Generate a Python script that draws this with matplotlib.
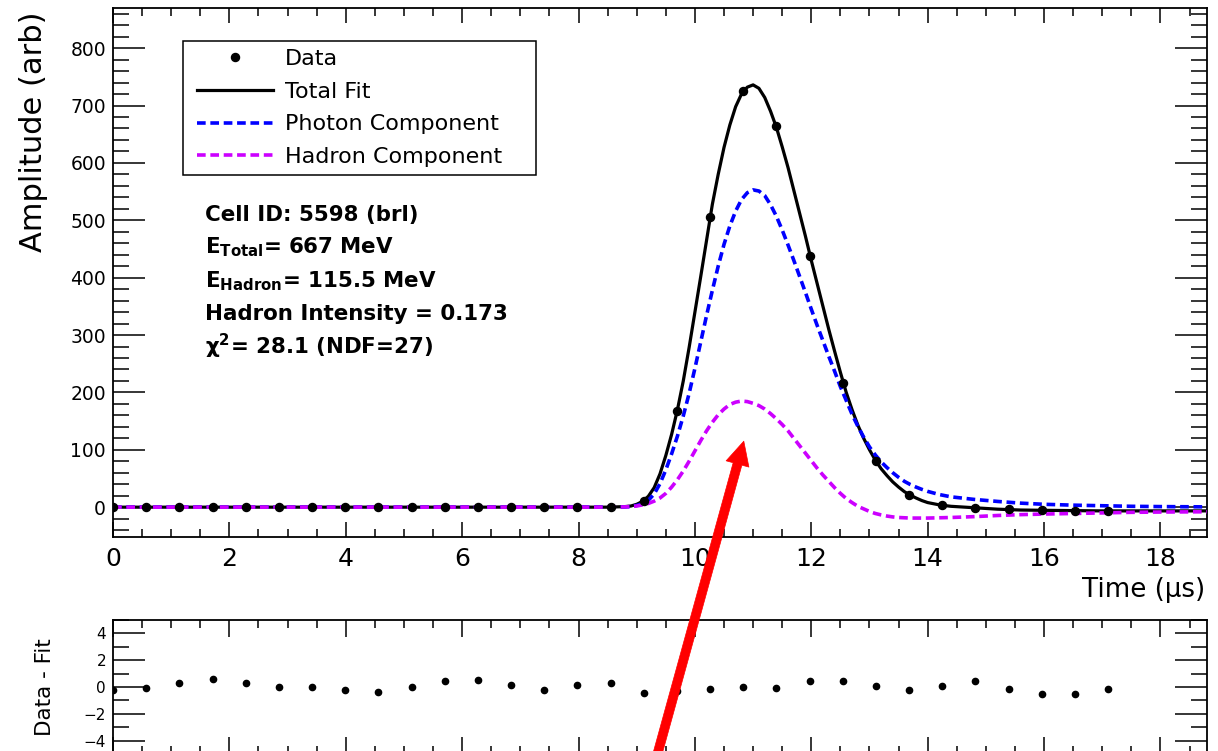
import matplotlib
matplotlib.use("Agg")
import matplotlib.pyplot as plt
from matplotlib.ticker import MultipleLocator, NullFormatter
from matplotlib.patches import FancyArrowPatch, ArrowStyle
from matplotlib.lines import Line2D
from matplotlib.legend_handler import HandlerLine2D

plt.rcParams['font.family'] = ['DejaVu Sans']
plt.rcParams['mathtext.default'] = 'regular'

# ---------------- data ----------------
t_data = [0.00, 0.57, 1.14, 1.71, 2.28, 2.85, 3.42, 3.99, 4.56, 5.13,
          5.70, 6.27, 6.84, 7.41, 7.98, 8.55, 9.12, 9.69, 10.26, 10.83,
          11.40, 11.97, 12.54, 13.11, 13.68, 14.25, 14.82, 15.39, 15.96,
          16.53, 17.10]
amp_data = [-0.2, -0.1, 0.3, 0.6, 0.3, 0.0, 0.0, -0.2, -0.4, 0.0,
            0.5, 0.5, 0.2, -0.2, 0.1, 0.3, 10, 167, 506, 725,
            664, 438, 217, 80, 21, 3, -1, -4, -5, -6, -6.5]
residual = [-0.25, -0.08, 0.33, 0.63, 0.33, -0.03, 0.0, -0.22, -0.4, -0.03,
            0.45, 0.5, 0.18, -0.2, 0.13, 0.3, -0.45, -0.33, -0.18, 0.0,
            -0.08, 0.48, 0.48, 0.05, -0.25, 0.1, 0.45, -0.18, -0.55, -0.55,
            -0.13]

fit_t = [0.0, 8.5,
         8.8, 8.9, 9.0, 9.1, 9.2, 9.3, 9.4, 9.5, 9.6, 9.7,
         9.8, 9.9, 10.0, 10.1, 10.2, 10.3, 10.4, 10.5, 10.6, 10.7,
         10.8, 10.9, 11.0, 11.1, 11.2, 11.3, 11.4, 11.5, 11.6, 11.7,
         11.8, 11.9, 12.0, 12.1, 12.2, 12.3, 12.4, 12.5, 12.6, 12.7,
         12.8, 12.9, 13.0, 13.1, 13.2, 13.3, 13.4, 13.5, 13.6, 13.7,
         13.8, 13.9, 14.0,
         14.2, 14.4, 14.8, 15.2, 15.6, 16.0, 16.5, 17.0, 17.5, 18.0, 18.8]
total_fit = [0, 0,
             1, 2, 5, 10, 19, 34, 58, 90, 127, 170,
             220, 278, 340, 402, 465, 528, 580, 627, 666, 698,
             720, 732, 736, 730, 714, 690, 662, 628, 592, 552,
             512, 472, 430, 390, 350, 310, 272, 235, 200, 170,
             143, 120, 100, 82, 67, 55, 44, 35, 27, 21,
             16, 11.5, 8,
             4, 1.5, -1, -3.5, -5, -5.5, -6, -6.5, -6.5, -6.5, -6.5]
photon = [0, 0,
          0.5, 1, 3, 6, 12, 23, 41, 65, 93, 124,
          159, 198, 242, 288, 334, 378, 420, 458, 490, 516,
          536, 548, 553, 551, 543, 527, 507, 483, 457, 430,
          402, 374, 345, 317, 290, 263, 237, 210, 186, 162,
          141, 122, 105, 91, 79, 69, 60, 52, 45, 39.5,
          35, 31, 27.5,
          22, 18, 13.5, 10, 7, 5, 3.5, 2.5, 1.5, 1, 0.5]
hadron = [0, 0,
          0.5, 1, 2, 4, 6.5, 10.5, 16, 24, 35, 48,
          63, 80, 98, 116, 133, 148, 161, 171, 179, 183,
          185, 184, 181, 177, 171, 163, 154, 144, 133, 120,
          107, 94, 81, 68, 56, 45, 34, 24, 15, 8,
          1.5, -3, -7.5, -11, -13.5, -15.5, -17, -18, -18.5, -19,
          -19, -19, -19,
          -18.5, -18, -16.5, -14.5, -13, -12, -11, -10, -9, -8.5, -8]

legend_labels = ["Data", "Total Fit", "Photon Component", "Hadron Component"]
info_lines = ["Cell ID: 5598 (brl)",
              "E$_{Total}$= 667 MeV",
              "E$_{Hadron}$= 115.5 MeV",
              "Hadron Intensity = 0.173",
              "$\\chi^{2}$= 28.1 (NDF=27)"]
arrow_tail = (9.33, -440)
arrow_tip = (10.84, 115)

# ---------------- figure ----------------
W, H = 1218, 751
fig = plt.figure(figsize=(W / 100, H / 100), dpi=100)
ax = fig.add_axes([113 / W, 1 - 537 / H, (1207 - 113) / W, (537 - 8) / H])
axr = fig.add_axes([113 / W, 1 - 754 / H, (1207 - 113) / W, (754 - 620) / H])

MAG = '#cc00ff'
l_tot, = ax.plot(fit_t, total_fit, color='black', lw=2.3, zorder=2)
l_pho, = ax.plot(fit_t, photon, color='blue', lw=2.6, ls=(0, (2.4, 1.3)), zorder=3)
l_had, = ax.plot(fit_t, hadron, color=MAG, lw=2.6, ls=(0, (2.4, 1.3)), zorder=4)
l_dat, = ax.plot(t_data, amp_data, 'o', color='black', ms=5.8, zorder=5)

ax.set_xlim(0, 18.8)
ax.set_ylim(-52, 870)
ax.xaxis.set_major_locator(MultipleLocator(2))
ax.xaxis.set_minor_locator(MultipleLocator(0.5))
ax.yaxis.set_major_locator(MultipleLocator(100))
ax.yaxis.set_minor_locator(MultipleLocator(20))
ax.tick_params(axis='both', which='both', direction='in', top=True, right=True,
               width=1.1, colors='black')
ax.tick_params(axis='x', which='major', length=11, labelsize=18, pad=7)
ax.tick_params(axis='x', which='minor', length=5.5)
ax.tick_params(axis='y', which='major', length=23, labelsize=13.5, pad=5)
ax.tick_params(axis='y', which='minor', length=11.5)
for s in ax.spines.values():
    s.set_linewidth(1.3)

leg = ax.legend([l_dat, l_tot, l_pho, l_had], legend_labels,
                loc='upper left', bbox_to_anchor=(0.064, 0.5, 0.3227, 0.4376),
                mode='expand', borderaxespad=0, fontsize=16,
                labelspacing=0.57, borderpad=0.36, handlelength=3.7,
                handletextpad=0.52, fancybox=False, framealpha=1,
                edgecolor='black', numpoints=1,
                handler_map={Line2D: HandlerLine2D(xpad=0.29)})
leg.get_frame().set_linewidth(1.1)

ybase = [220.5, 253.5, 287.5, 320.5, 354.5]
for s, yb in zip(info_lines, ybase):
    ax.text((205 - 113) / 1094, (537 - yb) / 529, s, transform=ax.transAxes,
            fontsize=15.4, fontweight='bold', ha='left', va='baseline')

# residual panel
axr.plot(t_data, residual, 'o', color='black', ms=4.5, zorder=3)
axr.set_xlim(0, 18.8)
axr.set_ylim(-5, 5)
axr.xaxis.set_major_locator(MultipleLocator(2))
axr.xaxis.set_minor_locator(MultipleLocator(0.5))
axr.yaxis.set_major_locator(MultipleLocator(2))
axr.yaxis.set_minor_locator(MultipleLocator(1))
axr.xaxis.set_major_formatter(NullFormatter())
axr.tick_params(axis='both', which='both', direction='in', top=True, right=True,
                width=1.1, labelbottom=False)
axr.tick_params(axis='x', which='major', length=12.5)
axr.tick_params(axis='x', which='minor', length=6)
axr.tick_params(axis='y', which='major', length=23, labelsize=11, pad=5)
axr.tick_params(axis='y', which='minor', length=11.5)
for s in axr.spines.values():
    s.set_linewidth(1.3)

# axis titles
fig.text(34 / W, 1 - 12 / H, 'Amplitude (arb)', rotation=90, ha='center', va='top',
         fontsize=22)
fig.text(1205 / W, 1 - 597 / H, 'Time (\u00b5s)', ha='right', va='baseline',
         fontsize=18.8)
fig.text(45 / W, 1 - 687 / H, 'Data - Fit', rotation=90, ha='center', va='center',
         fontsize=15.5)

# red annotation arrow
arrow = FancyArrowPatch(posA=arrow_tail, posB=arrow_tip, transform=ax.transData,
                        arrowstyle=ArrowStyle.Simple(head_length=17, head_width=17,
                                                     tail_width=6.5),
                        mutation_scale=1, color='red', lw=0.5,
                        shrinkA=0, shrinkB=0, zorder=10)
fig.add_artist(arrow)

fig.savefig('out.png', dpi=100)
